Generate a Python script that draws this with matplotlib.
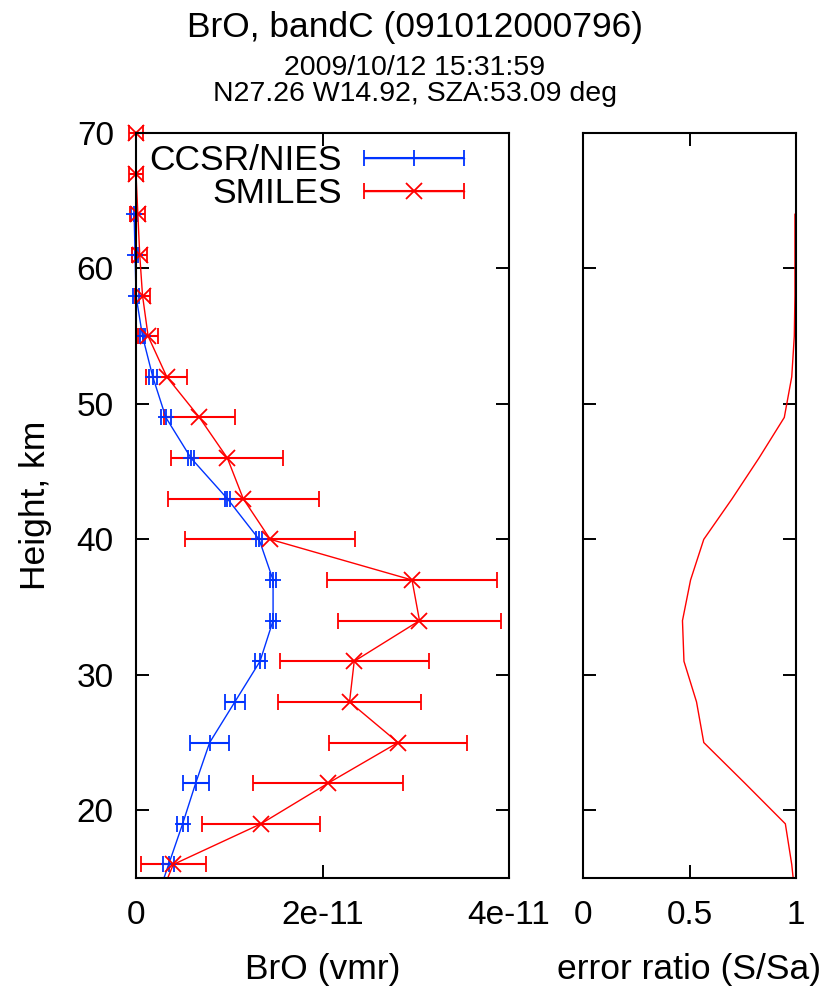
import numpy as np
import matplotlib
matplotlib.use('Agg')
import matplotlib.pyplot as plt
from matplotlib.container import ErrorbarContainer
from matplotlib.legend_handler import HandlerErrorbar

plt.rcParams['font.family'] = ['Liberation Sans', 'DejaVu Sans']

# SMILES retrieval, BrO in 1e-11 vmr (last level lies below the plotted range)
smiles_height = [70, 67, 64, 61, 58, 55, 52, 49, 46, 43, 40, 37, 34, 31, 28, 25, 22, 19, 16, 13]
smiles_bro = [0.00, 0.00, 0.02, 0.04, 0.07, 0.13, 0.33, 0.68, 0.98, 1.15, 1.44, 2.96,
              3.04, 2.34, 2.29, 2.81, 2.06, 1.34, 0.40, 0.22]
smiles_err = [0.07, 0.08, 0.08, 0.08, 0.085, 0.11, 0.22, 0.38, 0.60, 0.81, 0.91, 0.91,
              0.87, 0.80, 0.77, 0.74, 0.80, 0.63, 0.35, 0.35]

# CCSR/NIES retrieval, BrO in 1e-11 vmr
nies_height = [64, 61, 58, 55, 52, 49, 46, 43, 40, 37, 34, 31, 28, 25, 22, 19, 16, 13]
nies_bro = [-0.02, -0.01, 0.00, 0.07, 0.18, 0.32, 0.59, 0.98, 1.32, 1.47, 1.47, 1.33,
            1.06, 0.79, 0.64, 0.50, 0.35, 0.20]
nies_err = [0.03, 0.03, 0.03, 0.03, 0.04, 0.05, 0.03, 0.03, 0.03, 0.03, 0.03, 0.05,
            0.11, 0.21, 0.14, 0.06, 0.06, 0.06]

# error ratio S/Sa of the SMILES retrieval
ratio_height = [64, 61, 58, 55, 52, 49, 46, 43, 40, 37, 34, 31, 28, 25, 22, 19, 16, 13]
ratio = [0.995, 0.995, 0.995, 0.992, 0.98, 0.945, 0.826, 0.70, 0.567, 0.505, 0.467,
         0.474, 0.533, 0.567, 0.76, 0.95, 0.98, 1.0]

title = 'BrO, bandC (091012000796)'
subtitle = ['2009/10/12 15:31:59', 'N27.26 W14.92, SZA:53.09 deg']

RED = '#ff0000'
BLUE = '#0033ff'
YMIN, YMAX = 15, 70
W, H = 827, 988

fig = plt.figure(figsize=(W / 100, H / 100), dpi=100)


def add_axes_px(x0, x1, y0, y1):
    return fig.add_axes([x0 / W, 1 - y1 / H, (x1 - x0) / W, (y1 - y0) / H])


def style_axes(a):
    for s in a.spines.values():
        s.set_linewidth(1.5)
    a.tick_params(direction='in', length=9.5, width=1.4, top=True, right=True,
                  labelsize=24, pad=16)
    a.set_ylim(YMIN, YMAX)
    a.set_yticks([20, 30, 40, 50, 60, 70])


ax = add_axes_px(136, 509, 133, 878)
ax2 = add_axes_px(583, 796, 133, 878)


def profile(a, h, v, e, color, marker, label):
    h = np.asarray(h)
    v = np.asarray(v) * 1e-11
    e = np.asarray(e) * 1e-11
    inside = h >= YMIN
    eb = a.errorbar(v[inside], h[inside], xerr=e[inside], fmt='-' + marker, color=color,
                    lw=1.0, ms=11, mew=1.3, elinewidth=1.5, capsize=6, capthick=1.5,
                    label=label)
    for art in [eb[0], *eb[1], *eb[2]]:
        art.set_clip_on(False)
    # line continues below the bottom edge and gets clipped there
    low = np.where(~inside)[0]
    if len(low):
        k = low[0]
        a.plot(v[k - 1:k + 1], h[k - 1:k + 1], color=color, lw=1.0)
    return eb


profile(ax, nies_height, nies_bro, nies_err, BLUE, '+', 'CCSR/NIES')
profile(ax, smiles_height, smiles_bro, smiles_err, RED, 'x', 'SMILES')

style_axes(ax)
ax.set_xlim(0, 4e-11)
ax.set_xticks([0, 2e-11, 4e-11])
ax.set_xticklabels(['0', '2e-11', '4e-11'])
ax.set_xlabel('BrO (vmr)', fontsize=25.5, va='baseline')
ax.xaxis.set_label_coords(0.5, (878 - 979) / 745)
ax.set_ylabel('Height, km', fontsize=25.5, va='center')
ax.yaxis.set_label_coords((35 - 136) / 373, 0.5)

ax.legend(loc='upper right', bbox_to_anchor=(0.879, 0.985), frameon=False,
          markerfirst=False, fontsize=25.5, handlelength=2.83, handletextpad=0.62,
          labelspacing=0.0, borderpad=0, borderaxespad=0,
          handler_map={ErrorbarContainer: HandlerErrorbar(xerr_size=1.415)})

ax2.plot(ratio, ratio_height, color=RED, lw=1.0)
style_axes(ax2)
ax2.set_xlim(0, 1)
ax2.set_xticks([0, 0.5, 1])
ax2.set_xticklabels(['0', '0.5', '1'])
ax2.tick_params(labelleft=False)
ax2.set_xlabel('error ratio (S/Sa)', fontsize=25.5, va='baseline')
ax2.xaxis.set_label_coords(0.5, (878 - 979) / 745)

fig.text(415 / W, 1 - 37 / H, title, ha='center', va='baseline', fontsize=25.5)
fig.text(415 / W, 1 - 75 / H, subtitle[0], ha='center', va='baseline', fontsize=20.5)
fig.text(415 / W, 1 - 101 / H, subtitle[1], ha='center', va='baseline', fontsize=20.5)

fig.savefig('out.png', dpi=100)
